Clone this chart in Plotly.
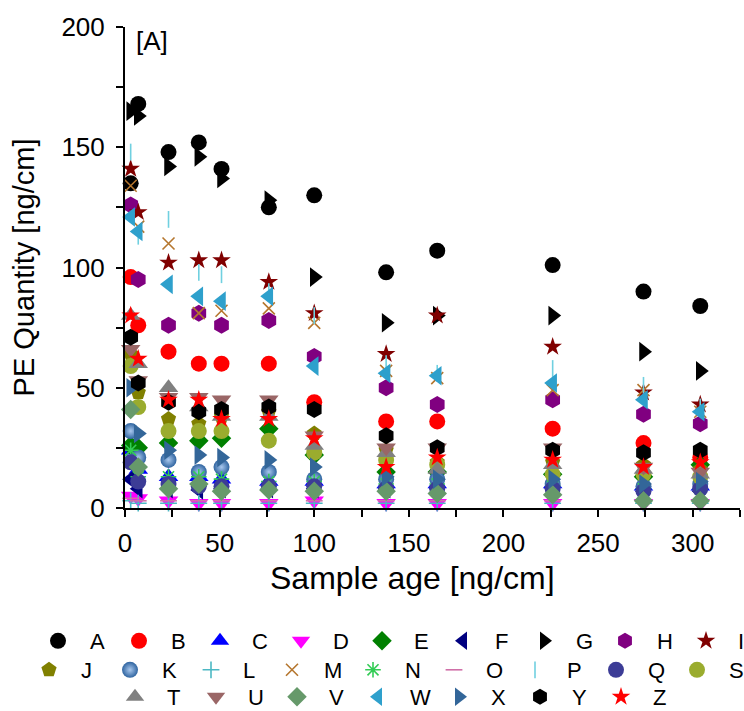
import plotly.graph_objects as go

# ---------------- data ----------------
sample_age = [3, 7, 23, 39, 51, 76, 100, 138, 165, 226, 274, 304]

series_names = ["A", "B", "C", "D", "E", "F", "G", "H", "I", "J", "K", "L", "M",
                "N", "O", "P", "Q", "S", "T", "U", "V", "W", "X", "Y", "Z"]

A = [135, 168, 148, 152, 141, 125, 130, 98, 107, 101, 90, 84]
B = [96, 76, 65, 60, 60, 60, 44, 36, 36, 33, 27, 21]
C = [24, 16, 13, 13, 12, 11, 11, 10, 10, 10, 9, 9]
D = [5, 4, 3, 2, 2, 2, 3, 2, 2, 2, 2, 2]
E = [26, 25, 27, 28, 29, 33, 22, 15, 15, 14, 13, 18]
F = [12, 8, 8, 7.5, 8, 8, 8, 8, 8, 8, 7, 7]
G = [165, 163, 142, 146, 137, 128, 96, 77, 80, 80, 65, 57]
H = [126, 95, 76, 81, 76, 78, 63, 50, 43, 45, 39, 35]
I = [141, 123, 102, 103, 103, 94, 81, 64, 80, 67, 48, 43]
J = [64, 48, 37, 35, 38, 40, 31, 24, 19, 19, 18, 16]
K = [32, 21, 20, 15, 17, 15, 12, 12, 12, 10, 9, 10]
L = [3, 2, 2, 2, 2, 2, 2, 2, 2, 2, 2, 2]
M = [134, 117, 110, 81, 82, 83, 77, 57, 54, 49, 49, 40]
N = [24, 13, 13, 13, 12, 11, 11, 10, 10, 9, 8, 8]
O = [4, 3, 3, 3, 3, 3, 3, 3, 3, 3, 3, 3]
P = [148, 113, 120, 98, 97, 90, 80, 60, 56, 58, 51, 42]
Q = [19, 11, 10, 9, 9, 9, 9, 8, 8, 8, 7, 8]
S = [59, 42, 32, 32, 32, 28, 23, 20, 18, 14, 14, 13]
T = [80, 60, 50, 42, 38, 38, 26, 23, 16, 18, 16, 14]
U = [66, 53, 46, 46, 45, 45, 30, 25, 25, 25, 17, 15]
V = [41, 17, 8, 10, 7, 7.5, 7, 7, 6, 5.5, 3, 3]
W = [121, 115, 93, 88, 86, 88, 59, 56, 55, 52, 45, 40]
X = [50, 31, 24, 22, 21, 20, 17, 13, 12, 12, 10, 11]
Y = [71, 52, 44, 40, 41, 42, 41, 30, 25, 24, 23, 24]
Z = [80, 62, 45, 45, 37, 37, 29, 17, 21, 20, 17, 19]

values = {"A": A, "B": B, "C": C, "D": D, "E": E, "F": F, "G": G, "H": H, "I": I,
          "J": J, "K": K, "L": L, "M": M, "N": N, "O": O, "P": P, "Q": Q, "S": S,
          "T": T, "U": U, "V": V, "W": W, "X": X, "Y": Y, "Z": Z}

x_tick_vals = list(range(0, 326, 25))
x_tick_text = [str(v) if v % 50 == 0 else "" for v in x_tick_vals]
y_tick_vals = list(range(0, 201, 25))
y_tick_text = [str(v) if v % 50 == 0 else "" for v in y_tick_vals]

x_title = "Sample age [ng/cm]"
y_title = "PE Quantity [ng/cm]"
panel_label = "[A]"

# ---------------- styles ----------------
style = {
    "A": ("circle", "#000000", 16),
    "B": ("circle", "#ff0000", 16),
    "C": ("triangle-up", "#0000ff", 17),
    "D": ("triangle-down", "#ff00ff", 17),
    "E": ("diamond", "#008000", 15),
    "F": ("triangle-left", "#000080", 17),
    "G": ("triangle-right", "#000000", 17),
    "H": ("hexagon", "#800080", 17),
    "I": ("star", "#800000", 14),
    "J": ("pentagon", "#808000", 16),
    "K": ("circle", "#2f64a0", 16),
    "L": ("cross-thin", "#4cb8c4", 12),
    "M": ("x-thin", "#b5762e", 12),
    "N": ("asterisk", "#33cc55", 13),
    "O": ("line-ew", "#d070a8", 12),
    "P": ("line-ns", "#70d0e0", 12),
    "Q": ("circle", "#3c3c96", 16),
    "S": ("circle", "#9aac2e", 16),
    "T": ("triangle-up", "#808080", 17),
    "U": ("triangle-down", "#9a6666", 17),
    "V": ("diamond", "#66996a", 15),
    "W": ("triangle-left", "#2ea0cc", 17),
    "X": ("triangle-right", "#336699", 17),
    "Y": ("hexagon", "#000000", 17),
    "Z": ("star", "#ff0000", 14),
}
line_symbols = {"cross-thin", "x-thin", "asterisk", "line-ew", "line-ns"}

row1 = ["A", "B", "C", "D", "E", "F", "G", "H", "I"]
row2 = ["J", "K", "L", "M", "N", "O", "P", "Q", "S"]

fig = go.Figure()
for name in series_names:
    sym, col, size = style[name]
    marker = dict(symbol=sym, color=col, size=size)
    if sym in line_symbols:
        marker["line"] = dict(color=col, width=1.6)
    else:
        marker["line"] = dict(width=0)
    if name == "K":
        marker["gradient"] = dict(type="radial", color="#a9c8ee")
    leg = "legend" if name in row1 else ("legend2" if name in row2 else "legend3")
    fig.add_trace(go.Scatter(
        x=sample_age, y=values[name], mode="markers", name=name,
        marker=marker, cliponaxis=False, legend=leg,
    ))

FONT = "Liberation Sans, Arial, sans-serif"
PLOT_L, PLOT_W, PLOT_B, PLOT_H = 125, 615, 508, 481


def px_x(px):
    return (px - PLOT_L) / PLOT_W


def px_y(py):
    return (PLOT_B - py) / PLOT_H


leg_common = dict(orientation="h", xanchor="left", yanchor="middle",
                  font=dict(family=FONT, size=22, color="#000000"),
                  bgcolor="rgba(0,0,0,0)", itemwidth=54,
                  entrywidth=12, entrywidthmode="pixels",
                  itemclick=False, itemdoubleclick=False)

axis_common = dict(ticks="outside", ticklen=7, tickwidth=2, tickcolor="#000000",
                   showline=True, linewidth=2, linecolor="#000000",
                   showgrid=False, zeroline=False, tickmode="array",
                   tickfont=dict(family=FONT, size=26, color="#000000"))

fig.update_layout(
    width=744, height=711,
    margin=dict(l=125, r=4, t=27, b=203, autoexpand=False),
    paper_bgcolor="white", plot_bgcolor="white",
    font=dict(family=FONT, color="#000000"),
    xaxis=dict(range=[0, 325], tickvals=x_tick_vals, ticktext=x_tick_text,
               ticklabelstandoff=4, **axis_common),
    yaxis=dict(range=[0, 200], tickvals=y_tick_vals, ticktext=y_tick_text,
               ticklabelstandoff=6,
               title=dict(text=y_title, font=dict(family=FONT, size=29, color="#000000"),
                          standoff=18),
               **axis_common),
    legend=dict(x=px_x(26), y=px_y(641), **leg_common),
    legend2=dict(x=px_x(17), y=px_y(670), **leg_common),
    legend3=dict(x=px_x(103), y=px_y(697), **leg_common),
    annotations=[
        dict(text=panel_label, xref="paper", yref="paper", x=px_x(134), y=px_y(24),
             xanchor="left", yanchor="top", showarrow=False,
             font=dict(family=FONT, size=26, color="#000000")),
        dict(text=x_title, xref="paper", yref="paper", x=px_x(412), y=px_y(578),
             xanchor="center", yanchor="middle", showarrow=False,
             font=dict(family=FONT, size=32, color="#000000")),
    ],
)

fig.write_html("out.html")
